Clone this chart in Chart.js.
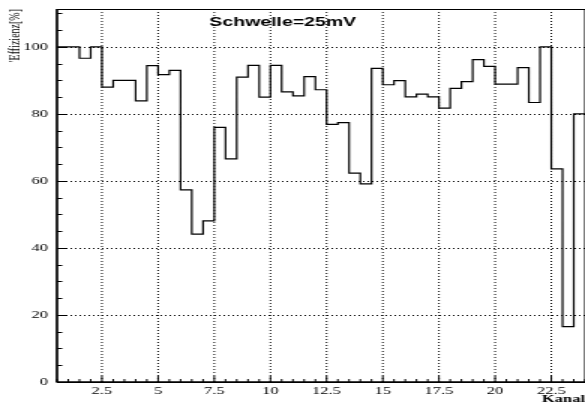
<!DOCTYPE html>
<html>
<head>
<meta charset="utf-8">
<script src="https://cdn.jsdelivr.net/npm/chart.js@4.4.1/dist/chart.umd.min.js"></script>
<style>
  html, body { margin: 0; padding: 0; background: #fff; overflow: hidden; }
  /* the original plot is stretched horizontally, so draw narrow and stretch */
  #wrap { width: 390px; height: 409px; transform: scaleX(1.5); transform-origin: 0 0; }
</style>
</head>
<body>
<div id="wrap"><canvas id="effChart" width="390" height="409"></canvas></div>
<script>
// Effizienz je Kanal (Histogramm, Binbreite 0.5)
const binStart = 0.5;
const binWidth = 0.5;
const efficiency = [
  100, 100, 96.6, 100, 88.0, 90.0, 90.0, 83.9, 94.4, 91.7,
  93.0, 57.3, 44.1, 48.1, 76.0, 66.6, 91.0, 94.5, 85.0, 94.5,
  86.6, 85.4, 91.1, 87.2, 76.9, 77.4, 62.3, 59.1, 93.6, 88.7,
  89.9, 85.1, 85.9, 85.1, 81.7, 87.6, 89.6, 96.2, 94.2, 88.9,
  88.9, 93.8, 83.4, 100, 63.6, 16.5, 80.0
];
const xTicks = [2.5, 5, 7.5, 10, 12.5, 15, 17.5, 20, 22.5];
const yTicks = [0, 20, 40, 60, 80, 100];
const xRange = [0.5, 24];
const yRange = [0, 111.3];

// step points: lower edge of each bin, plus closing edge of the last one
const points = efficiency.map((v, i) => ({ x: binStart + i * binWidth, y: v }));
points.push({ x: binStart + efficiency.length * binWidth, y: efficiency[efficiency.length - 1] });

function seg(ctx, x1, y1, x2, y2) {
  ctx.beginPath();
  ctx.moveTo(x1, y1);
  ctx.lineTo(x2, y2);
  ctx.stroke();
}

const rootFrame = {
  id: 'rootFrame',
  beforeDatasetsDraw(chart) {
    const { ctx, chartArea: a, scales: { x, y } } = chart;
    ctx.save();
    ctx.strokeStyle = '#000';
    ctx.lineWidth = 1;
    ctx.setLineDash([1, 2]);
    xTicks.forEach(v => {
      const px = x.getPixelForValue(v);
      seg(ctx, px, a.top, px, a.bottom);
    });
    yTicks.slice(1).forEach(v => {
      const py = Math.round(y.getPixelForValue(v)) + 0.5;
      seg(ctx, a.left, py, a.right, py);
    });
    ctx.restore();
  },
  afterDatasetsDraw(chart) {
    const { ctx, chartArea: a, scales: { x, y } } = chart;
    ctx.save();
    ctx.strokeStyle = '#000';
    ctx.lineWidth = 1;
    ctx.strokeRect(a.left, a.top + 0.5, a.right - a.left, a.bottom - a.top);
    ctx.lineWidth = 1.4;
    seg(ctx, a.left, a.top, a.left, a.bottom);
    seg(ctx, a.left, a.bottom, a.right, a.bottom);
    ctx.lineWidth = 1;
    // x ticks every 0.5, longer at labelled ones
    for (let v = xRange[0]; v <= xRange[1] + 1e-9; v += 0.5) {
      const px = x.getPixelForValue(v);
      const len = xTicks.includes(v) ? 6 : 3;
      seg(ctx, px, a.bottom, px, a.bottom - len);
    }
    // y ticks every 5, longer at labelled ones
    for (let v = 0; v <= yRange[1]; v += 5) {
      const py = Math.round(y.getPixelForValue(v)) + 0.5;
      const len = yTicks.includes(v) ? 6 : 3.5;
      seg(ctx, a.left, py, a.left + len, py);
    }
    ctx.restore();
  },
  afterDraw(chart) {
    const { ctx } = chart;
    ctx.save();
    ctx.fillStyle = '#000';
    ctx.font = 'bold 13px "Liberation Sans", Arial, sans-serif';
    ctx.textAlign = 'center';
    ctx.textBaseline = 'alphabetic';
    ctx.fillText('Schwelle=25mV', 188.5, 26);
    ctx.restore();
  }
};

const serif = '"Liberation Serif", "Times New Roman", serif';

function noEdgePadding(s) {
  s.paddingTop = 0;
  s.paddingBottom = 0;
  s.paddingLeft = 0;
  s.paddingRight = 0;
}

new Chart(document.getElementById('effChart'), {
  type: 'line',
  data: {
    datasets: [{
      data: points,
      stepped: 'before',
      borderColor: '#000',
      borderWidth: 1.2,
      pointRadius: 0,
      fill: false
    }]
  },
  options: {
    responsive: false,
    animation: false,
    layout: { padding: { top: 9, left: 0, right: 0, bottom: 0 } },
    plugins: {
      legend: { display: false },
      tooltip: { enabled: false }
    },
    scales: {
      x: {
        type: 'linear',
        min: xRange[0],
        max: xRange[1],
        afterBuildTicks: s => { s.ticks = xTicks.map(v => ({ value: v })); },
        afterFit: s => { s.height = 27; noEdgePadding(s); },
        grid: { display: false, drawTicks: false },
        border: { display: false },
        ticks: {
          autoSkip: false,
          maxRotation: 0,
          padding: 3,
          color: '#000',
          font: { family: serif, size: 11 },
          callback: v => String(v)
        },
        title: {
          display: true,
          text: 'Kanal',
          align: 'end',
          color: '#000',
          padding: { top: 0, bottom: 3 },
          font: { family: serif, size: 11, weight: 'bold' }
        }
      },
      y: {
        min: yRange[0],
        max: yRange[1],
        afterBuildTicks: s => { s.ticks = yTicks.map(v => ({ value: v })); },
        afterFit: s => { s.width = 38; noEdgePadding(s); },
        grid: { display: false, drawTicks: false },
        border: { display: false },
        ticks: {
          padding: 6,
          color: '#000',
          font: { family: serif, size: 11 }
        },
        title: {
          display: true,
          text: "'Effizienz[%]",
          align: 'end',
          color: '#000',
          padding: { top: 4, bottom: 0 },
          font: { family: serif, size: 10 }
        }
      }
    }
  },
  plugins: [rootFrame]
});
</script>
</body>
</html>
